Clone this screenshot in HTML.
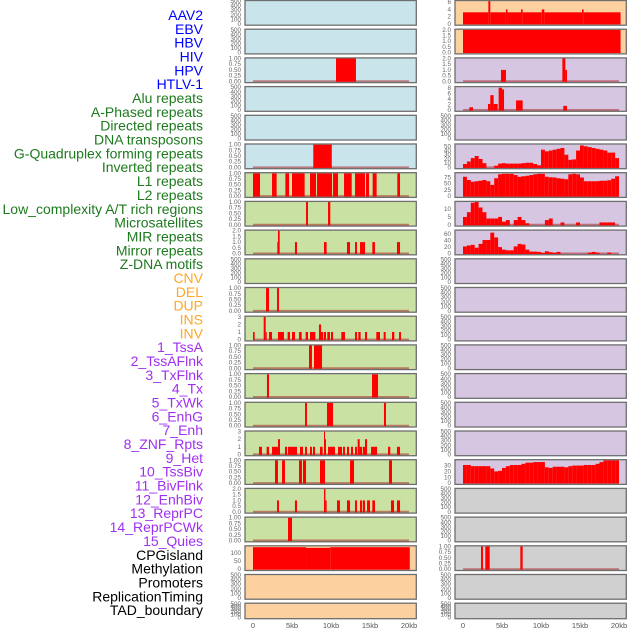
<!DOCTYPE html>
<html><head><meta charset="utf-8">
<style>
html,body{margin:0;padding:0;background:#fff;width:630px;height:630px;overflow:hidden}
svg{display:block}
</style></head>
<body>
<svg id="chart" width="630" height="630" xmlns="http://www.w3.org/2000/svg" font-family="Liberation Sans, sans-serif"></svg>
<script>
// ---- labels ----
const labelNames = ["AAV2","EBV","HBV","HIV","HPV","HTLV-1","Alu repeats","A-Phased repeats","Directed repeats","DNA transposons","G-Quadruplex forming repeats","Inverted repeats","L1 repeats","L2 repeats","Low_complexity A/T rich regions","Microsatellites","MIR repeats","Mirror repeats","Z-DNA motifs","CNV","DEL","DUP","INS","INV","1_TssA","2_TssAFlnk","3_TxFlnk","4_Tx","5_TxWk","6_EnhG","7_Enh","8_ZNF_Rpts","9_Het","10_TssBiv","11_BivFlnk","12_EnhBiv","13_ReprPC","14_ReprPCWk","15_Quies","CPGisland","Methylation","Promoters","ReplicationTiming","TAD_boundary"];
const labelGroups = [6,13,5,15,5];
const groupColors = ["#0000ff","#1e7a1e","#ffa726","#a030f0","#000000"];
// ---- x axis ----
const xTicks = [0,5,10,15,20];
const xTickLabels = ["0","5kb","10kb","15kb","20kb"];
// ---- left column segment data [startKb,endKb,value] ----
const segHBV = [[10.64,13.2,1]];
const segHTLV = [[7.73,10.1,1]];
const segAlu = [[0,0.9,1],[2.44,3.03,1],[4.15,4.62,1],[5.0,6.62,1],[7.31,8.08,1],[8.21,10.13,1],[10.26,10.9,1],[11.67,12.65,1],[13.08,14.36,1],[14.49,14.87,1],[15.34,15.85,1],[18.5,18.85,1]];
const segAPhased = [[6.8,7.05,1],[9.62,9.91,1]];
const segDirected = [[3.12,3.2,1],[3.2,3.42,2],[5.38,5.64,1],[9.1,9.44,1],[12.05,12.44,1],[13.08,13.33,1],[13.72,14.36,1],[15.3,15.64,1],[18.46,18.85,1]];
const segGQuad = [[1.67,2.05,1],[3.08,3.33,1]];
const segInverted = [[0,0.21,1],[1.37,1.63,3],[1.63,1.76,1],[2.05,2.44,1],[3.2,3.97,1],[4.44,4.74,1],[5.0,5.38,1],[5.9,6.24,1],[6.75,7.05,1],[7.31,7.99,1],[8.46,8.72,2],[8.72,9.0,1],[9.1,9.36,1],[9.53,9.87,1],[10.0,10.26,1],[11.32,11.79,1],[13.08,13.33,1],[13.5,13.8,1],[14.36,14.62,1],[15.81,16.28,1],[16.75,17.01,1],[17.82,18.12,1],[18.72,18.97,1]];
const segL1 = [[7.18,7.56,1],[7.82,8.85,1]];
const segL2 = [[1.79,2.05,1],[15.26,16.03,1]];
const segLowComplex = [[6.67,6.92,1],[9.49,10.26,1],[16.79,17.05,1]];
const segMicrosat = [[0.77,1.15,1],[1.75,2.05,1],[2.44,3.2,1],[3.2,3.46,2],[4.1,4.36,1],[4.49,5.64,1],[6.03,6.41,1],[6.67,6.92,1],[7.31,7.56,1],[7.69,7.95,1],[8.59,8.93,1],[9.1,9.23,3],[9.23,9.36,2],[9.62,10.51,1],[10.9,11.41,1],[11.54,11.79,1],[12.05,12.31,1],[12.56,12.82,1],[13.08,13.33,1],[13.42,13.68,2],[13.68,14.0,1],[14.1,14.36,1],[14.36,14.62,2],[15.13,15.9,1],[17.31,17.6,1],[18.46,18.85,1]];
const segMIR = [[2.82,3.2,1],[3.72,4.1,1],[5.9,6.28,1],[6.41,6.8,1],[8.59,9.23,1],[12.44,12.95,1],[17.44,17.82,1]];
const segMirror = [[3.08,3.33,1],[5.38,5.64,1],[9.1,9.28,2],[9.28,9.44,1],[10.77,11.15,1],[12.05,12.44,1],[13.08,13.33,1],[13.72,14.0,1],[14.1,14.36,1],[14.62,15.0,1],[15.3,15.64,1],[17.69,18.08,1],[18.46,18.85,1]];
const segZDNA = [[4.49,5.0,1]];
const segCNV = [[0,6.8,135],[6.8,9.9,131],[9.9,20.1,135]];
// ---- right column data ----
const segINS = [[0,3.25,3.2],[3.25,3.5,6.3],[3.5,5.5,3.2],[5.5,5.7,4],[5.7,7.44,3.2],[7.44,7.65,4],[7.65,10.1,3.2],[10.1,10.43,4],[10.43,15.26,3.2],[15.26,15.47,4],[15.47,20.2,3.2]];
const segINV = [[0,20.2,2]];
const segTssA = [[4.87,5.51,1],[12.74,13.12,2],[13.12,13.33,1]];
const segTssAFlnk = [[0.81,1.28,1],[3.2,3.5,2.2],[3.5,3.93,5.4],[3.93,4.44,2.2],[4.57,5.0,8.1],[5.0,5.26,7.5],[6.8,7.65,3.5],[12.86,13.33,1.5]];
const profTx = [8,14,22,27,20,10,0,0,4,9,10,9,9,9,9,10,11,11,8,5,42,38,40,42,44,46,30,18,19,40,52,50,48,46,44,42,40,35,35,22];
const profTxWk = [78,65,58,60,62,65,60,45,72,88,90,90,90,85,78,80,82,85,88,90,90,78,76,75,72,70,68,88,90,88,75,60,60,60,60,62,62,64,70,80];
const profEnhG = [5,8,14,15,11,8,4,4,4,5,2,3,0,3,5,3,1,0,0,0,0,3,4,0,0,1.5,0,0,0,1.5,0,0,0,0,0,1.5,1.5,1.5,1.5,0];
const profEnh = [22,25,27,18,30,42,42,65,50,20,12,10,10,22,30,28,12,6,6,5,2,7,4,2,5,0,0,0,0,0,0,0,3,5,3,0,0,3,0,0];
const profQuies = [31,31,29,29,29,29,29,25,20,21,26,29,31,31,31,33,35,35,36,36,36,27,26,28,28,28,27,29,30,30,30,31,31,31,33,36,39,39,39,39];
const segMethyl = [[2.31,2.56,1],[2.86,3.42,1],[7.35,7.65,1]];
// ---- tick sets ----
const tEmpty = [0,100,200,300,400,500];
const tUnit = [0,0.25,0.5,0.75,1];
const tTwo = [0,0.5,1,1.5,2];
const tThree = [0,1,2,3];

function profToSegs(p){const s=[];for(let i=0;i<p.length;i++){s.push([i*0.5,(i+1)*0.5,p[i]]);}return s;}

const BG = {blue:"#c9e4eb",green:"#c9e1a3",orange:"#fdd09f",purple:"#d6c6e2",gray:"#d0d0d0"};
// left column panels
const leftPanels = [
 {bg:"blue",segs:null,ticks:tEmpty,max:500,dec:0},
 {bg:"blue",segs:null,ticks:tEmpty,max:500,dec:0},
 {bg:"blue",segs:segHBV,ticks:tUnit,max:1,dec:2},
 {bg:"blue",segs:null,ticks:tEmpty,max:500,dec:0},
 {bg:"blue",segs:null,ticks:tEmpty,max:500,dec:0},
 {bg:"blue",segs:segHTLV,ticks:tUnit,max:1,dec:2},
 {bg:"green",segs:segAlu,ticks:tUnit,max:1,dec:2},
 {bg:"green",segs:segAPhased,ticks:tUnit,max:1,dec:2},
 {bg:"green",segs:segDirected,ticks:tTwo,max:2,dec:1},
 {bg:"green",segs:null,ticks:tEmpty,max:500,dec:0},
 {bg:"green",segs:segGQuad,ticks:tUnit,max:1,dec:2},
 {bg:"green",segs:segInverted,ticks:tThree,max:3,dec:0},
 {bg:"green",segs:segL1,ticks:tUnit,max:1,dec:2},
 {bg:"green",segs:segL2,ticks:tUnit,max:1,dec:2},
 {bg:"green",segs:segLowComplex,ticks:tUnit,max:1,dec:2},
 {bg:"green",segs:segMicrosat,ticks:tThree,max:3,dec:0},
 {bg:"green",segs:segMIR,ticks:tUnit,max:1,dec:2},
 {bg:"green",segs:segMirror,ticks:tTwo,max:2,dec:1},
 {bg:"green",segs:segZDNA,ticks:tUnit,max:1,dec:2},
 {bg:"orange",segs:segCNV,ticks:[0,50,100],max:140,dec:0,nobase:true},
 {bg:"orange",segs:null,ticks:tEmpty,max:500,dec:0},
 {bg:"orange",segs:null,ticks:tEmpty,max:500,dec:0}
];
const rightPanels = [
 {bg:"orange",segs:segINS,ticks:[0,2,4,6],max:6.3,dec:0,nobase:true},
 {bg:"orange",segs:segINV,ticks:tTwo,max:2,dec:1,nobase:true},
 {bg:"purple",segs:segTssA,ticks:tTwo,max:2,dec:1},
 {bg:"purple",segs:segTssAFlnk,ticks:[0,2,4,6,8],max:8.3,dec:0},
 {bg:"purple",segs:null,ticks:tEmpty,max:500,dec:0},
 {bg:"purple",segs:profToSegs(profTx),ticks:[0,10,20,30,40,50],max:54,dec:0},
 {bg:"purple",segs:profToSegs(profTxWk),ticks:[0,25,50,75],max:92,dec:0},
 {bg:"purple",segs:profToSegs(profEnhG),ticks:[0,5,10],max:14.5,dec:0},
 {bg:"purple",segs:profToSegs(profEnh),ticks:[0,20,40,60],max:71,dec:0},
 {bg:"purple",segs:null,ticks:tEmpty,max:500,dec:0},
 {bg:"purple",segs:null,ticks:tEmpty,max:500,dec:0},
 {bg:"purple",segs:null,ticks:tEmpty,max:500,dec:0},
 {bg:"purple",segs:null,ticks:tEmpty,max:500,dec:0},
 {bg:"purple",segs:null,ticks:tEmpty,max:500,dec:0},
 {bg:"purple",segs:null,ticks:tEmpty,max:500,dec:0},
 {bg:"purple",segs:null,ticks:tEmpty,max:500,dec:0},
 {bg:"purple",segs:profToSegs(profQuies),ticks:[0,10,20,30],max:39,dec:0,nobase:true},
 {bg:"gray",segs:null,ticks:tEmpty,max:500,dec:0},
 {bg:"gray",segs:null,ticks:tEmpty,max:500,dec:0},
 {bg:"gray",segs:segMethyl,ticks:tUnit,max:1,dec:2},
 {bg:"gray",segs:null,ticks:tEmpty,max:500,dec:0},
 {bg:"gray",segs:null,ticks:tEmpty,max:500,dec:0}
];

const NS="http://www.w3.org/2000/svg";
const svg=document.getElementById('chart');
function mk(tag,attrs,parent){const e=document.createElementNS(NS,tag);for(const k in attrs)e.setAttribute(k,attrs[k]);(parent||svg).appendChild(e);return e;}

// labels
let idx=0;
for(let g=0;g<labelGroups.length;g++){
 for(let j=0;j<labelGroups[g];j++){
  const t=mk('text',{x:203,y:(20+13.84*idx).toFixed(2),'text-anchor':'end','font-size':'14',fill:groupColors[g]});
  
  
  t.textContent=labelNames[idx];
  idx++;
 }
}

function panelTop(i){return 0.5+28.7*i;}
function panelH(i){return i===21?15.5:24.7;}

function drawColumn(panels,x0,colName){
 const w=171.3;
 const xs=kb=>x0+8+kb*7.8;
 panels.forEach((p,i)=>{
  const top=panelTop(i),h=panelH(i);
  const g=mk('g',{});
  
  
  const r=mk('rect',{x:x0,y:top,width:w,height:h,fill:BG[p.bg]},g);
  
  
  const y0=top+h-1.3, y1=top+0.6;
  const ys=v=>y0-(v/p.max)*(y0-y1);
  if(p.segs){
   if(!p.nobase){
    const bl=mk('line',{x1:xs(0),x2:xs(20),y1:y0,y2:y0,stroke:'rgba(170,40,40,0.55)','stroke-width':2},g);
    
    
   }
   p.segs.forEach(s=>{
    if(s[2]<=0)return;
    const b=mk('rect',{x:xs(s[0]).toFixed(2),y:ys(s[2]).toFixed(2),width:Math.max(0.8,xs(s[1])-xs(s[0])).toFixed(2),height:(y0-ys(s[2])+0.5).toFixed(2),fill:'#ff0000'},g);
    
    
   });
  }
  const bd=mk('rect',{x:x0,y:top,width:w,height:h,fill:'none',stroke:'#6e6e6e','stroke-width':1.3},g);
  
  
  p.ticks.forEach(t=>{
   const tl=mk('text',{x:x0-4,y:(ys(t)+2).toFixed(2),'text-anchor':'end','font-size':'6.3',fill:'#666'},g);
   
   
   tl.textContent=t.toFixed(p.dec);
  });
 });
 xTicks.forEach((t,k)=>{
  const xl=mk('text',{x:xs(t),y:628,'text-anchor':'middle','font-size':'7.5',fill:'#555'});
  
  
  xl.textContent=xTickLabels[k];
 });
}
drawColumn(leftPanels,245,'left');
drawColumn(rightPanels,455,'right');
</script>
</body></html>
